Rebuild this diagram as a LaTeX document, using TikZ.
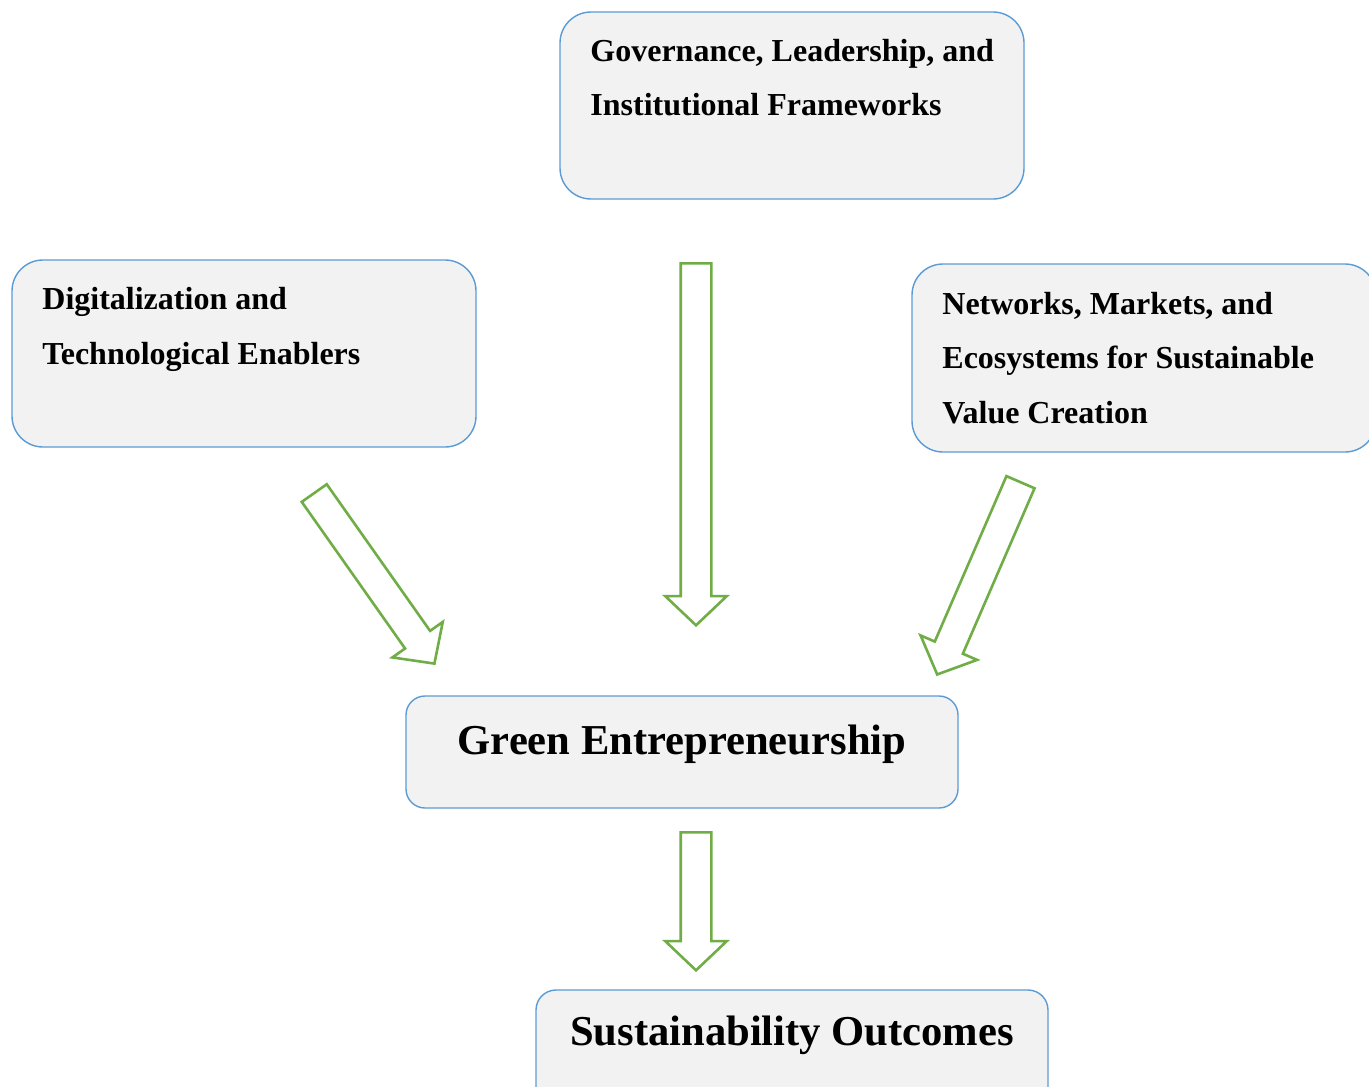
\documentclass[tikz,border=0pt]{standalone}
\usepackage{fontspec}
\setmainfont{Liberation Serif}
\usetikzlibrary{shapes.arrows,calc,positioning}
\definecolor{boxblue}{HTML}{5B9BD5}
\definecolor{boxgray}{HTML}{F2F2F2}
\definecolor{arrowgreen}{HTML}{70AD47}
\tikzset{
    box/.style={draw=boxblue,fill=boxgray,line width=.7pt,inner sep=0pt},
    box text/.style={font=\fontsize{16}{27.25}\selectfont\bfseries,align=left,inner sep=0pt},
    big text/.style={font=\fontsize{21.3}{26}\selectfont\bfseries,inner sep=0pt},
    block arrow/.style={single arrow,draw=arrowgreen,fill=white,line width=1.3pt,
        inner sep=0pt,text height=14pt,text depth=0pt,minimum width=29.5pt,
        single arrow head extend=7.75pt,single arrow tip angle=93,anchor=tail},
}
% hollow block arrow from #1 to #2
\newcommand\greenarrow[2]{%
    \path let \p1=($(#2)-(#1)$),\n1={atan2(\y1,\x1)},\n2={veclen(\x1,\y1)} in
        node[block arrow,minimum height=\n2,rotate=\n1] at (#1) {};}

\begin{document}
\begin{tikzpicture}[x=.5pt,y=-.5pt]
    \useasboundingbox (0,0) rectangle (1369,1086);

    % the three drivers (text anchored on its last baseline)
    \node[box,rounded corners=15.5pt,minimum width=232pt,minimum height=93.5pt] (gov) at (792,105.5) {};
    \node[box text,anchor=base west] (govtext) at (590,116) {Governance, Leadership, and\\Institutional Frameworks};

    \node[box,rounded corners=15.5pt,minimum width=232pt,minimum height=93.5pt] (digi) at (244,353.5) {};
    \node[box text,anchor=base west] (digitext) at (42,364) {Digitalization and\\Technological Enablers};

    \node[box,rounded corners=15.5pt,minimum width=232pt,minimum height=94pt] (net) at (1144,358) {};
    \node[box text,anchor=base west] (nettext) at (942,423) {Networks, Markets, and\\Ecosystems for Sustainable\\Value Creation};

    % centre and outcome
    \node[box,rounded corners=9.5pt,minimum width=276pt,minimum height=56pt] (green) at (682,752) {};
    \node[big text,anchor=base] (greentext) at (682,754) {Green Entrepreneurship};

    \node[box,rounded corners=10pt,minimum width=256pt,minimum height=60pt] (sust) at (792,1050) {};
    \node[big text,anchor=base] (susttext) at (792,1045) {Sustainability Outcomes};

    % arrows
    \coordinate (govtail) at (696,262);
    \coordinate (govtip) at (696,624);
    \coordinate (digitail) at (313.5,492);
    \coordinate (digitip) at (434,663);
    \coordinate (nettail) at (1021,481);
    \coordinate (nettip) at (937.7,673.3);
    \coordinate (greentail) at (696,831);
    \coordinate (greentip) at (696,969);
    \greenarrow{govtail}{govtip}
    \greenarrow{digitail}{digitip}
    \greenarrow{nettail}{nettip}
    \greenarrow{greentail}{greentip}
\end{tikzpicture}
\end{document}
